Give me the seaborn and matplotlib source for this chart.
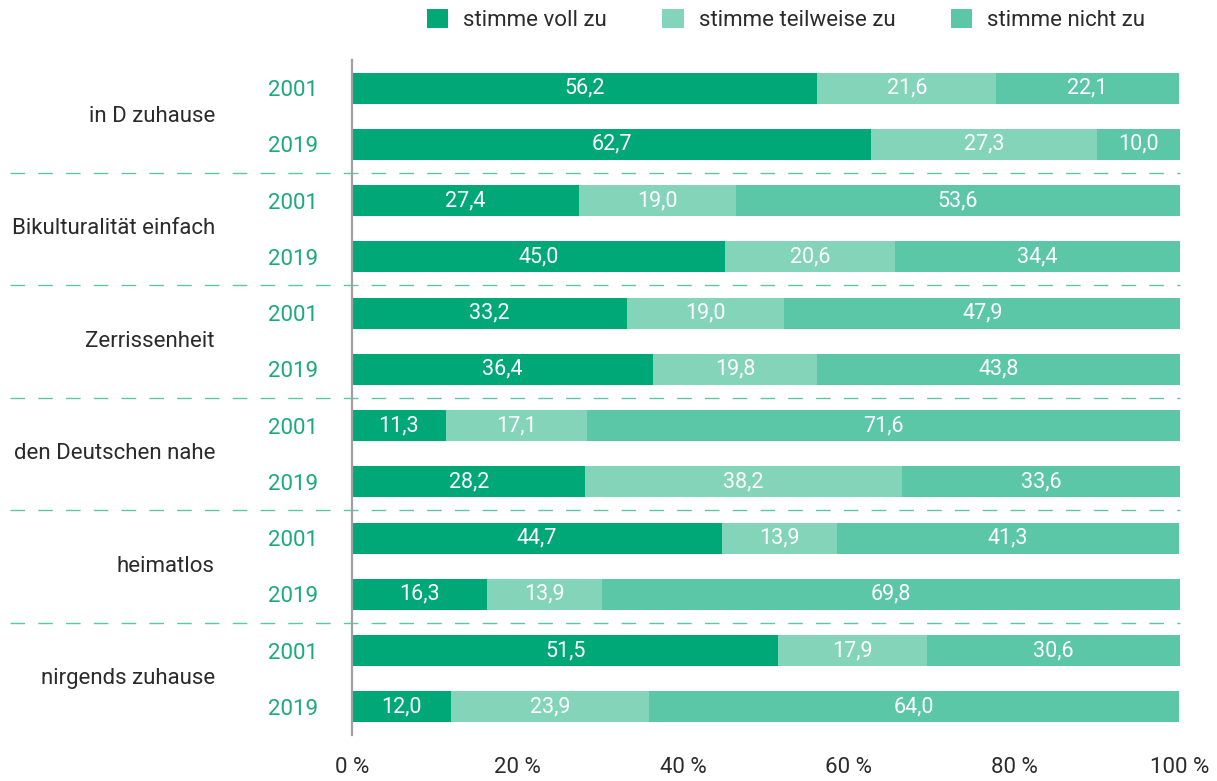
import matplotlib
matplotlib.use("Agg")
import matplotlib.pyplot as plt
import matplotlib.transforms as mtransforms
from matplotlib.patches import Patch
import numpy as np
import pandas as pd
import seaborn as sns

sns.set_theme(style="white")
plt.rcParams["font.family"] = ["Roboto", "DejaVu Sans"]

# Statements and survey years
categories = ["in D zuhause", "Bikulturalität einfach", "Zerrissenheit",
              "den Deutschen nahe", "heimatlos", "nirgends zuhause"]
years = ["2001", "2019"]

# Shares in percent, one entry per (statement, year) row
voll = [56.2, 62.7, 27.4, 45.0, 33.2, 36.4, 11.3, 28.2, 44.7, 16.3, 51.5, 12.0]
teil = [21.6, 27.3, 19.0, 20.6, 19.0, 19.8, 17.1, 38.2, 13.9, 13.9, 17.9, 23.9]
nicht = [22.1, 10.0, 53.6, 34.4, 47.9, 43.8, 71.6, 33.6, 41.3, 69.8, 30.6, 64.0]

series_names = ["stimme voll zu", "stimme teilweise zu", "stimme nicht zu"]
tick_values = [0, 20, 40, 60, 80, 100]
tick_labels = ["0 %", "20 %", "40 %", "60 %", "80 %", "100 %"]

c_voll = "#00A878"
c_teil = "#84D4BA"
c_nicht = "#5CC7A6"
c_year = "#1DAA7A"
c_text = "#2b2b2b"

rows = [f"{c} {y}" for c in categories for y in years]
df = pd.DataFrame({"row": rows, "voll": voll, "teil": teil, "nicht": nicht})
df["cum1"] = df["voll"]
df["cum2"] = df["voll"] + df["teil"]
df["cum3"] = df["cum2"] + df["nicht"]

fig = plt.figure(figsize=(12.17, 7.81), dpi=100)
ax = fig.add_axes([352 / 1217, 1 - 735 / 781, 828 / 1217, 675 / 781])

# Stacked bars: draw cumulative totals from longest to shortest
for col, color in [("cum3", c_nicht), ("cum2", c_teil), ("cum1", c_voll)]:
    sns.barplot(data=df, x=col, y="row", orient="h", color=color,
                width=0.55, saturation=1, edgecolor="none", ax=ax)

ax.set_xlim(0, 100)
ax.set_ylim(11.5, -0.5)
ax.set_xlabel("")
ax.set_ylabel("")

# Segment value labels
for i in range(len(rows)):
    starts = [0, df["cum1"][i], df["cum2"][i]]
    vals = [voll[i], teil[i], nicht[i]]
    for s, v in zip(starts, vals):
        ax.text(s + v / 2, i, f"{v:.1f}".replace(".", ","), ha="center",
                va="center", color="white", fontsize=15.5)

# Year tick labels
ax.set_yticks(range(len(rows)))
ax.set_yticklabels([years[i % 2] for i in range(len(rows))], color=c_year,
                   fontsize=16)
ax.tick_params(axis="y", length=0, pad=24.5)

# Percent ticks
ax.set_xticks(tick_values)
ax.set_xticklabels(tick_labels, fontsize=16, color=c_text)
ax.tick_params(axis="x", length=0, pad=16)

for side in ["top", "right", "bottom"]:
    ax.spines[side].set_visible(False)
ax.spines["left"].set_color("#a0a0a0")
ax.spines["left"].set_linewidth(1.6)

# Statement labels and dashed group separators
blend = mtransforms.blended_transform_factory(ax.transAxes, ax.transData)
x_label = (215 - 352) / 828
x_dash0 = (10 - 352) / 828
for g, cat in enumerate(categories):
    ax.text(x_label, 2 * g + 0.5, cat, transform=blend, ha="right",
            va="center", fontsize=16, color=c_text)
    if g < len(categories) - 1:
        ax.plot([x_dash0, 1.0], [2 * g + 1.5] * 2, transform=blend,
                clip_on=False, color=c_nicht, lw=1.0, dashes=(10.5, 9.5),
                zorder=0)

handles = [Patch(facecolor=c, edgecolor="none") for c in (c_voll, c_teil, c_nicht)]
fig.legend(handles, series_names, loc="center", bbox_to_anchor=(786 / 1217, 1 - 20 / 781),
           ncol=3, frameon=False, fontsize=16, handlelength=0.95, handleheight=0.95,
           handletextpad=0.68, columnspacing=2.5, labelcolor=c_text)

fig.savefig("out.png", dpi=100)
